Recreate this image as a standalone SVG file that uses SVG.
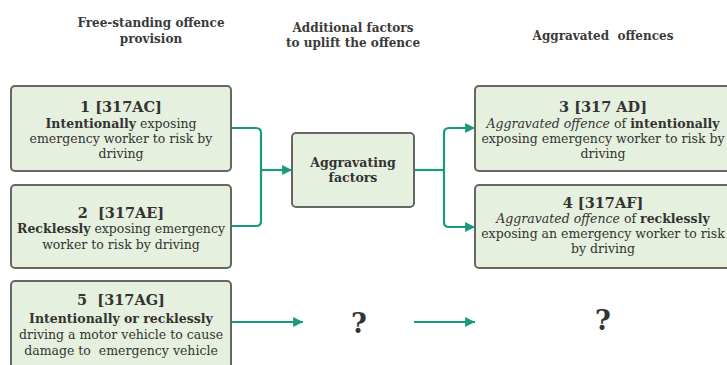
<svg xmlns="http://www.w3.org/2000/svg" width="727" height="365" viewBox="0 0 727 365">
<defs>
<style>
.box{fill:#e6f0de;stroke:#666;stroke-width:2}
text{font-family:"DejaVu Serif","Liberation Serif",serif;fill:#333;font-size:12.5px;text-anchor:middle;white-space:pre}
.h{font-weight:bold;font-size:12px;fill:#3a3a3a}
.t{font-size:14.5px}
.b{font-weight:bold}
.i{font-style:italic}
.q{font-weight:bold;font-size:27px}
.c{fill:none;stroke:#1a9a7c;stroke-width:2.2}
</style>
<marker id="ah" viewBox="0 0 10 10" refX="10" refY="5" markerWidth="4.5" markerHeight="4.5" markerUnits="strokeWidth" orient="auto">
<path d="M0,0 L10,5 L0,10 z" fill="#1a9a7c"/>
</marker>
</defs>
<g id="headings">
<text class="h" x="151" y="27">Free-standing offence</text>
<text class="h" x="151" y="43">provision</text>
<text class="h" x="353" y="32">Additional factors</text>
<text class="h" x="353" y="47">to uplift the offence</text>
<text class="h" x="603" y="40">Aggravated  offences</text>
</g>
<g id="connectors">
<path class="c" d="M231,128 H256 Q261,128 261,133 V221 Q261,226 256,226 H231"/>
<path class="c" d="M261,170 H292" marker-end="url(#ah)"/>
<path class="c" d="M414,170 H444"/>
<path class="c" d="M444,222 V133 Q444,128 449,128 H475" marker-end="url(#ah)"/>
<path class="c" d="M444,222 Q444,227 449,227 H475" marker-end="url(#ah)"/>
<path class="c" d="M231,322 H303" marker-end="url(#ah)"/>
<path class="c" d="M414,322 H475" marker-end="url(#ah)"/>
</g>
<g id="node1">
<rect class="box" x="11" y="86" width="220" height="85" rx="4"/>
<text class="t b" x="121" y="112">1 [317AC]</text>
<text x="121" y="128"><tspan class="b">Intentionally</tspan> exposing</text>
<text x="121" y="143">emergency worker to risk by</text>
<text x="121" y="158">driving</text>
</g>
<g id="node2">
<rect class="box" x="11" y="185" width="220" height="83" rx="4"/>
<text class="t b" x="121" y="218">2  [317AE]</text>
<text x="121" y="233"><tspan class="b">Recklessly</tspan> exposing emergency</text>
<text x="121" y="249">worker to risk by driving</text>
</g>
<g id="node5">
<rect class="box" x="11" y="281" width="220" height="100" rx="4"/>
<text class="t b" x="121" y="305">5  [317AG]</text>
<text class="b" x="121" y="323">Intentionally or recklessly</text>
<text x="121" y="339">driving a motor vehicle to cause</text>
<text x="121" y="355">damage to  emergency vehicle</text>
</g>
<g id="node-aggravating">
<rect class="box" x="292" y="133" width="122" height="74" rx="4"/>
<text class="b" x="353" y="167">Aggravating</text>
<text class="b" x="353" y="182">factors</text>
</g>
<g id="node3">
<rect class="box" x="475" y="86" width="262" height="85" rx="4"/>
<text class="t b" x="603" y="112">3 [317 AD]</text>
<text x="603" y="128"><tspan class="i">Aggravated offence</tspan> of <tspan class="b">intentionally</tspan></text>
<text x="603" y="143">exposing emergency worker to risk by</text>
<text x="603" y="158">driving</text>
</g>
<g id="node4">
<rect class="box" x="475" y="185" width="262" height="83" rx="4"/>
<text class="t b" x="603" y="208">4 [317AF]</text>
<text x="603" y="223"><tspan class="i">Aggravated offence</tspan> of <tspan class="b">recklessly</tspan></text>
<text x="603" y="238">exposing an emergency worker to risk</text>
<text x="603" y="253">by driving</text>
</g>
<g id="q1"><text class="q" x="359" y="333">?</text></g>
<g id="q2"><text class="q" x="603" y="330">?</text></g>
</svg>
